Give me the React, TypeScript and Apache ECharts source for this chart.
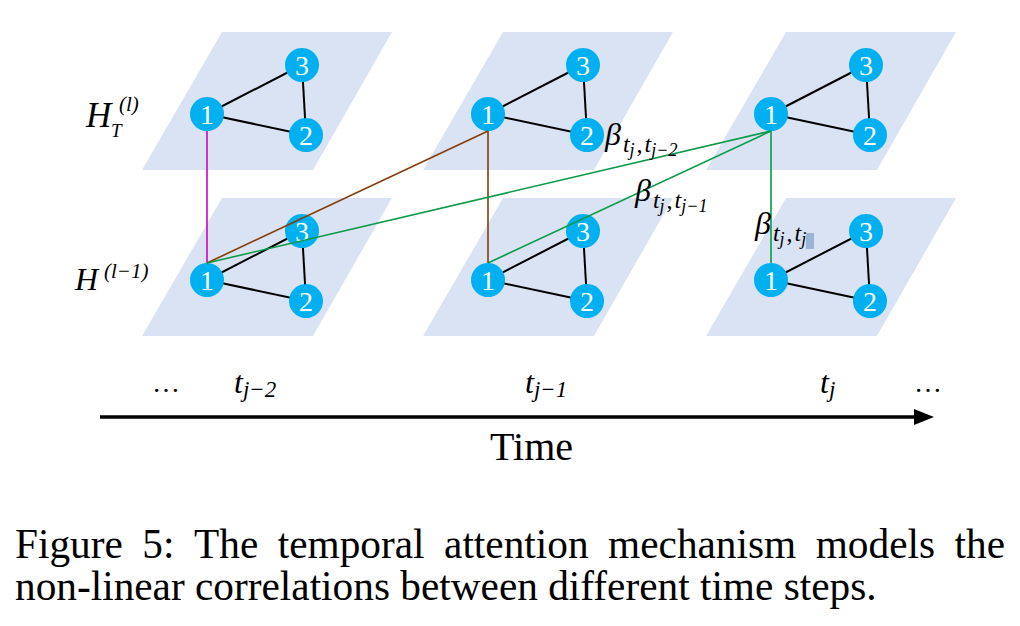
import React, { useEffect, useRef } from "react";
import * as echarts from "echarts";

// ---------- data ----------
const stepSubscripts = ["j−2", "j−1", "j"]; // time steps t_{j-2}, t_{j-1}, t_j
const stepNode1X = [207, 488, 771]; // x of node 1 for each time step
const layerNode1Y = [114, 280]; // y of node 1 for each layer (H_T^(l), H^(l-1))
const nodeIds = [1, 2, 3];
const nodeOffsetX = [0, 99, 95];
const nodeOffsetY = [0, 21, -49];
const graphEdges = [
  [1, 3],
  [1, 2],
  [3, 2],
];
// temporal attention links: from node 1 of top layer at step attnFrom[i] to node 1 of bottom layer at step attnTo[i]
const attnFrom = [0, 1, 1, 2, 2, 2];
const attnTo = [0, 0, 1, 0, 1, 2];
const betaSecondSub = ["j−2", "j−1", "j"]; // β_{t_j, t_{...}}
const captionLine1 = ["Figure", "5:", "The", "temporal", "attention", "mechanism", "models", "the"];
const captionLine2 = "non-linear correlations between different time steps.";

// ---------- styles ----------
const SERIF = "Liberation Serif";
const NODE_R = 17;
const PLANE_FILL = "#DAE3F3";
const NODE_FILL = "#00B0F0";
const LINK_COLORS = ["#CC00CC", "#843C0C", "#0A9A48"];
const PLANE_DX = [-65, 106, 185, 15];
const PLANE_DY = [56, 56, -82, -82];

let measureCtx: CanvasRenderingContext2D | null = null;
function measure(text: string, size: number, italic = false) {
  if (!measureCtx) measureCtx = document.createElement("canvas").getContext("2d");
  measureCtx!.font = `${italic ? "italic " : ""}${size}px "${SERIF}"`;
  return measureCtx!.measureText(text).width;
}

function txt(x: number, baseline: number, text: string, size: number, italic = false, extra: any = {}) {
  return {
    type: "text",
    x,
    y: baseline - 0.34 * size,
    z: 100,
    style: {
      text,
      fontSize: size,
      fontFamily: SERIF,
      fontStyle: italic ? "italic" : "normal",
      fill: "#000",
      align: "left",
      verticalAlign: "middle",
      ...extra,
    },
  };
}

type Part = { t: string; size: number; dy: number; italic?: boolean; gap?: number };
function run(x0: number, baseline: number, parts: Part[]) {
  const els: any[] = [];
  let x = x0;
  for (const p of parts) {
    els.push(txt(x, baseline + p.dy, p.t, p.size, p.italic !== false));
    x += measure(p.t, p.size, p.italic !== false) + (p.gap || 0);
  }
  return els;
}

function nodePos(step: number, layer: number, id: number) {
  const k = nodeIds.indexOf(id);
  return [stepNode1X[step] + nodeOffsetX[k], layerNode1Y[layer] + nodeOffsetY[k]];
}

export default function App() {
  const ref = useRef<HTMLDivElement>(null);
  useEffect(() => {
    document.body.style.margin = "0";
    const chart = echarts.init(ref.current!, null, { renderer: "svg" });

    const planes: number[][] = [];
    const nodes: any[] = [];
    const edges: any[] = [];
    for (let s = 0; s < stepNode1X.length; s++) {
      for (let l = 0; l < layerNode1Y.length; l++) {
        planes.push([stepNode1X[s], layerNode1Y[l]]);
        for (const id of nodeIds) {
          const p = nodePos(s, l, id);
          nodes.push([p[0], p[1], id]);
        }
        for (const [a, b] of graphEdges) {
          edges.push({ coords: [nodePos(s, l, a), nodePos(s, l, b)] });
        }
      }
    }
    const links = attnFrom.map((f, i) => {
      const a = nodePos(f, 0, 1);
      const b = nodePos(attnTo[i], 1, 1);
      return {
        coords: [
          [a[0], a[1] + NODE_R],
          [b[0], b[1] - NODE_R],
        ],
        lineStyle: { color: LINK_COLORS[f] },
      };
    });

    const graphic: any[] = [];
    // layer labels
    graphic.push(...run(86, 127, [{ t: "H", size: 35, dy: 0 }]));
    graphic.push(...run(119, 111, [{ t: "(l)", size: 21, dy: 0 }]));
    graphic.push(...run(111, 137, [{ t: "T", size: 19, dy: 0 }]));
    graphic.push(...run(75, 290, [{ t: "H", size: 32, dy: 0 }]));
    graphic.push(...run(104, 278, [{ t: "(l−1)", size: 21, dy: 0 }]));

    // beta labels
    const betaPos = [
      [605, 145],
      [635, 201],
      [755, 234],
    ];
    betaSecondSub.forEach((sub, i) => {
      const [bx, by] = betaPos[i];
      graphic.push(
        ...run(bx, by, [
          { t: "β", size: 32, dy: 0, gap: 2 },
          { t: "t", size: 24, dy: 7 },
          { t: "j", size: 18, dy: 11, gap: 2 },
          { t: ",", size: 24, dy: 7, italic: false, gap: 2 },
          { t: "t", size: 24, dy: 7 },
          { t: sub, size: 18, dy: 11 },
        ])
      );
    });
    // selection highlight near the last subscript
    graphic.push({
      type: "rect",
      z: 99,
      shape: { x: 806, y: 233, width: 8, height: 16 },
      style: { fill: "#8FAAD0", opacity: 0.85 },
    });

    // time axis
    const stepLabelX = [234, 525, 820];
    stepSubscripts.forEach((sub, i) => {
      graphic.push(
        ...run(stepLabelX[i], 393, [
          { t: "t", size: 32, dy: 0 },
          { t: sub, size: 23, dy: 4 },
        ])
      );
    });
    graphic.push(txt(152, 392, "…", 28));
    graphic.push(txt(914, 392, "…", 28));
    graphic.push({
      type: "line",
      z: 100,
      shape: { x1: 100, y1: 417, x2: 920, y2: 417 },
      style: { stroke: "#000", lineWidth: 3.5 },
    });
    graphic.push({
      type: "polygon",
      z: 100,
      shape: {
        points: [
          [934, 417],
          [914, 409],
          [914, 425],
        ],
      },
      style: { fill: "#000" },
    });
    graphic.push(txt(490, 460, "Time", 40));

    // caption
    const capSize = 41.3;
    const line1W = captionLine1.map((w) => measure(w, capSize));
    const totalW = line1W.reduce((a, b) => a + b, 0);
    const capLeft = 15;
    const capRight = 1005;
    const gap = (capRight - capLeft - totalW) / (captionLine1.length - 1);
    let cx = capLeft;
    captionLine1.forEach((w, i) => {
      graphic.push(txt(cx, 558, w, capSize));
      cx += line1W[i] + gap;
    });
    graphic.push(txt(capLeft, 600, captionLine2, capSize));

    chart.setOption({
      animation: false,
      backgroundColor: "#ffffff",
      grid: { left: 0, right: 0, top: 0, bottom: 0 },
      xAxis: { type: "value", min: 0, max: 1020, show: false },
      yAxis: { type: "value", min: 0, max: 626, inverse: true, show: false },
      series: [
        {
          type: "custom",
          z: 1,
          data: planes,
          renderItem: (params: any, api: any) => {
            const x = api.value(0);
            const y = api.value(1);
            const points = PLANE_DX.map((dx, k) => api.coord([x + dx, y + PLANE_DY[k]]));
            return { type: "polygon", shape: { points }, style: { fill: PLANE_FILL } };
          },
        },
        {
          type: "lines",
          z: 2,
          coordinateSystem: "cartesian2d",
          data: edges,
          lineStyle: { color: "#000", width: 2, opacity: 1 },
        },
        {
          type: "scatter",
          z: 3,
          data: nodes,
          symbolSize: NODE_R * 2,
          itemStyle: { color: NODE_FILL, opacity: 1 },
          label: {
            show: true,
            position: "inside",
            formatter: (p: any) => String(p.value[2]),
            color: "#fff",
            fontSize: 28,
            fontFamily: SERIF,
          },
        },
        {
          type: "lines",
          z: 4,
          coordinateSystem: "cartesian2d",
          data: links,
          lineStyle: { width: 1.6, opacity: 1 },
        },
      ],
      graphic,
    });
    return () => chart.dispose();
  }, []);
  return (
    <div
      ref={ref}
      style={{ position: "fixed", left: 0, top: 0, width: 1020, height: 626 }}
    />
  );
}
